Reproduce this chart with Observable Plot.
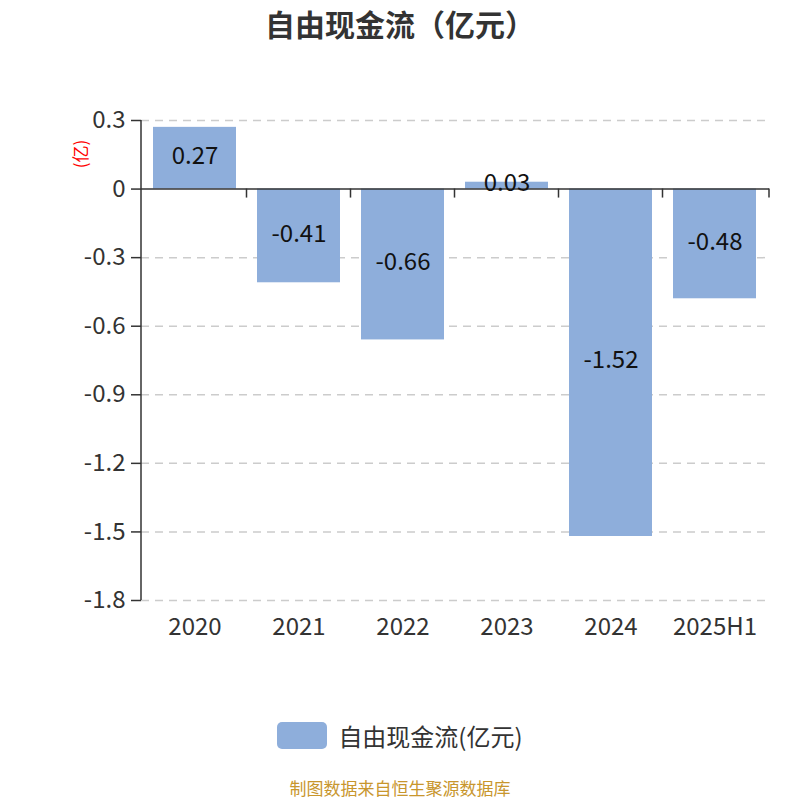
<!DOCTYPE html>
<html>
<head>
<meta charset="utf-8">
<script src="https://cdn.jsdelivr.net/npm/d3@7"></script>
<script src="https://cdn.jsdelivr.net/npm/@observablehq/plot@0.6"></script>
<style>
  html, body { margin: 0; padding: 0; background: #fff; }
  body { font-family: "Noto Sans CJK SC", "Noto Sans", sans-serif; }
  #wrap { position: relative; width: 800px; height: 800px; overflow: hidden; }
  #chart { position: absolute; left: 0; top: 0; }
  .abs { position: absolute; }
  #title { left: 0; width: 800px; top: 6px; text-align: center; font-size: 30px; line-height: 34px; font-weight: bold; color: #333; }
  #unit { left: 78.5px; top: 154px; transform: translate(-50%, -50%) rotate(-90deg); color: #ff0000; font-size: 17px; line-height: 17px; white-space: nowrap; }
  #legend { left: 0; width: 800px; top: 722px; height: 27px; display: flex; justify-content: center; align-items: center; gap: 11px; }
  #legend .sw { width: 50px; height: 27px; border-radius: 5px; background: #8eaedb; }
  #legend .lb { font-size: 24px; line-height: 27px; color: #333; }
  #footer { left: 0; width: 800px; top: 779px; text-align: center; font-size: 17px; line-height: 18px; color: #c8962d; }
</style>
</head>
<body>
<div id="wrap">
  <div id="chart"></div>
  <div id="title" class="abs"></div>
  <div id="unit" class="abs"></div>
  <div id="legend" class="abs"><div class="sw"></div><div class="lb"></div></div>
  <div id="footer" class="abs"></div>
</div>
<script>
const title = "自由现金流（亿元）";
const unitLabel = "(亿)";
const seriesName = "自由现金流(亿元)";
const footer = "制图数据来自恒生聚源数据库";
const categories = ["2020", "2021", "2022", "2023", "2024", "2025H1"];
const values = [0.27, -0.41, -0.66, 0.03, -1.52, -0.48];
const yTicks = [0.3, 0, -0.3, -0.6, -0.9, -1.2, -1.5, -1.8];
const barColor = "#8eaedb";

document.getElementById("title").textContent = title;
document.getElementById("unit").textContent = unitLabel;
document.querySelector("#legend .lb").textContent = seriesName;
document.getElementById("footer").textContent = footer;

const data = categories.map((c, i) => ({cat: c, value: values[i]}));
const yFmt = d => (d === 0 ? "0" : d.toFixed(1));

// category boundary ticks on the zero line, computed from the plot's scales
function boundaryTicks(index, scales, values_, dims) {
  const x = scales.x, y = scales.y;
  const bw = typeof x.bandwidth === "function" ? x.bandwidth() : (x.bandwidth || 0);
  const centers = categories.map(c => x(c) + bw / 2);
  const left = dims.marginLeft, right = dims.width - dims.marginRight;
  const bounds = [left];
  for (let i = 0; i < centers.length - 1; i++) bounds.push((centers[i] + centers[i + 1]) / 2);
  bounds.push(right);
  const y0 = y(0);
  const g = d3.create("svg:g").attr("stroke", "#333").attr("stroke-width", 1.5);
  g.selectAll("line.t").data(bounds.slice(1)).join("line")
    .attr("x1", d => d).attr("x2", d => d).attr("y1", y0).attr("y2", y0 + 9);
  // vertical y-axis line across the full y domain
  const dom = y.domain ? y.domain() : [yTicks[yTicks.length - 1], yTicks[0]];
  g.append("line").attr("x1", left).attr("x2", left)
    .attr("y1", y(d3.max(dom))).attr("y2", y(d3.min(dom)));
  return g.node();
}

const plot = Plot.plot({
  width: 800,
  height: 800,
  marginLeft: 141,
  marginRight: 31,
  marginTop: 120,
  marginBottom: 200,
  style: {fontFamily: '"Noto Sans CJK SC", "Noto Sans", sans-serif', background: "transparent", overflow: "visible"},
  x: {domain: categories, paddingInner: 0.2, paddingOuter: 0.1, axis: null, label: null},
  y: {domain: [-1.8, 0.3], axis: null, label: null},
  marks: [
    Plot.gridY(yTicks.filter(d => d !== 0), {stroke: "#cccccc", strokeOpacity: 1, strokeWidth: 1.5, strokeDasharray: "8,6"}),
    Plot.barY(data, {x: "cat", y: "value", fill: barColor}),
    Plot.ruleY([0], {stroke: "#333", strokeWidth: 1.5}),
    boundaryTicks,
    Plot.axisY(yTicks, {anchor: "left", label: null, tickSize: 10, tickPadding: 6, fontSize: 24, tickFormat: yFmt, color: "#333", strokeWidth: 1.5}),
    Plot.axisX({anchor: "bottom", label: null, tickSize: 0, tickPadding: 17, fontSize: 24, color: "#333"}),
    Plot.text(data, {x: "cat", y: d => d.value / 2, text: d => d.value.toFixed(2), fontSize: 24, fill: "#111", dy: -2})
  ]
});
document.getElementById("chart").appendChild(plot);
</script>
</body>
</html>
